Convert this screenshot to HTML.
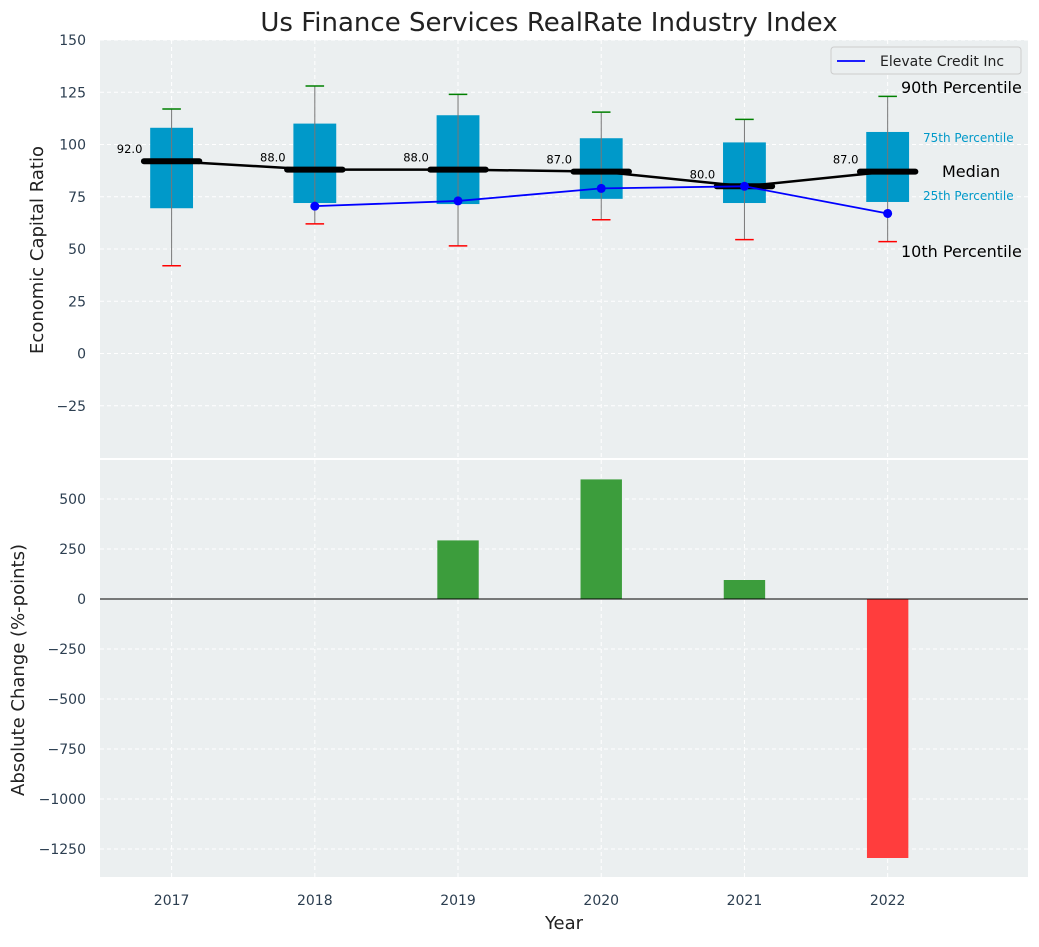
<!DOCTYPE html>
<html><head><meta charset="utf-8"><style>
body{margin:0;background:#fff;font-family:"Liberation Sans","DejaVu Sans",sans-serif}
svg text{font-family:"DejaVu Sans","Liberation Sans",sans-serif}
</style></head><body>
<svg id="c" width="1039" height="942" xmlns="http://www.w3.org/2000/svg"></svg>
<script>
const years=[2017,2018,2019,2020,2021,2022];
const q1=[69.5,72,71.5,74,72,72.5];
const q3=[108,110,114,103,101,106];
const med=[92,88,88,87,80,87];
const p10=[42,62,51.5,64,54.5,53.5];
const p90=[117,128,124,115.5,112,123];
const compYears=[2018,2019,2020,2021,2022];
const comp=[70.5,73,79,80,67];
const changes=[0,0,293,598,95,-1295];
const topTicks=[-25,0,25,50,75,100,125,150];
const botTicks=[-1250,-1000,-750,-500,-250,0,250,500];
const NS='http://www.w3.org/2000/svg';
const svg=document.getElementById('c');
function el(t,a,p){const e=document.createElementNS(NS,t);for(const k in a)e.setAttribute(k,a[k]);(p||svg).appendChild(e);return e;}
const fmt=v=>String(v).replace('-','\u2212');
const L=100,R=1028;
const x=v=>L+(v-2016.5)/(6.48)*(R-L);
const T0=40,T1=458,B0=460,B1=877;
const yt=v=>T0+(150-v)/200*(T1-T0);
const yb=v=>B0+(695-v)/(695+1390)*(B1-B0);
let e=el('rect',{x:L,y:T0,width:R-L,height:T1-T0,fill:'#ebeff0'});
e=el('rect',{x:L,y:B0,width:R-L,height:B1-B0,fill:'#ebeff0'});
years.forEach(yr=>{el('line',{x1:x(yr),x2:x(yr),y1:T0,y2:T1,stroke:'#fff','stroke-dasharray':'4,3'});el('line',{x1:x(yr),x2:x(yr),y1:B0,y2:B1,stroke:'#fff','stroke-dasharray':'4,3'});});
topTicks.forEach(v=>{el('line',{x1:L,x2:R,y1:yt(v),y2:yt(v),stroke:'#fff','stroke-dasharray':'4,3'});
 const t=el('text',{x:L-14,y:yt(v)+5,'text-anchor':'end','font-size':14,fill:'#2c3e50'});t.textContent=fmt(v);});
botTicks.forEach(v=>{el('line',{x1:L,x2:R,y1:yb(v),y2:yb(v),stroke:'#fff','stroke-dasharray':'4,3'});
 const t=el('text',{x:L-14,y:yb(v)+5,'text-anchor':'end','font-size':14,fill:'#2c3e50'});t.textContent=fmt(v);});
const bw=(0.3/6.5)*(R-L), mw=(0.43/6.5)*(R-L), cw=(0.13/6.5)*(R-L);
years.forEach((yr,i)=>{
 const cx=x(yr);
 e=el('rect',{x:cx-bw/2,y:yt(q3[i]),width:bw,height:yt(q1[i])-yt(q3[i]),fill:'#0099c9'});
 el('line',{x1:cx,x2:cx,y1:yt(p90[i]),y2:yt(p10[i]),stroke:'#777','stroke-width':1});
 e=el('line',{x1:cx-cw/2,x2:cx+cw/2,y1:yt(p90[i]),y2:yt(p90[i]),stroke:'green','stroke-width':1.5});
 e=el('line',{x1:cx-cw/2,x2:cx+cw/2,y1:yt(p10[i]),y2:yt(p10[i]),stroke:'red','stroke-width':1.5});
});
e=el('polyline',{points:years.map((yr,i)=>x(yr)+','+yt(med[i])).join(' '),fill:'none',stroke:'#000','stroke-width':2.5});
years.forEach((yr,i)=>{const cx=x(yr);
 e=el('line',{x1:cx-mw/2+3,x2:cx+mw/2-3,y1:yt(med[i]),y2:yt(med[i]),stroke:'#000','stroke-width':6,'stroke-linecap':'round'});
 const t=el('text',{x:cx-42,y:yt(med[i])-8,'text-anchor':'middle','font-size':11.5,fill:'#000'});t.textContent=med[i].toFixed(1);
});
e=el('polyline',{points:compYears.map((yr,i)=>x(yr)+','+yt(comp[i])).join(' '),fill:'none',stroke:'blue','stroke-width':1.8});
compYears.forEach((yr,i)=>{e=el('circle',{cx:x(yr),cy:yt(comp[i]),r:4.5,fill:'blue'});});
[['90th Percentile',901,93,16,'#000'],['75th Percentile',923,142,12,'#0099c9'],['Median',942,177,16,'#000'],['25th Percentile',923,200,12,'#0099c9'],['10th Percentile',901,257,16,'#000']].forEach(a=>{
 const t=el('text',{x:a[1],y:a[2],'font-size':a[3],fill:a[4]});t.textContent=a[0];});
const lg=el('g',{});
el('rect',{x:831,y:47,width:190,height:27,rx:3,fill:'#ebeff0',stroke:'#ccc'},lg);
el('line',{x1:837,x2:865,y1:61,y2:61,stroke:'blue','stroke-width':1.8},lg);
let t=el('text',{x:880,y:66,'font-size':14,fill:'#222'},lg);t.textContent='Elevate Credit Inc';
const barw=(0.29/6.5)*(R-L);
years.forEach((yr,i)=>{const v=changes[i];if(!v)return;
 e=el('rect',{x:x(yr)-barw/2,y:Math.min(yb(v),yb(0)),width:barw,height:Math.abs(yb(v)-yb(0)),fill:v>=0?'#3c9d3c':'#ff3d3d'});});
el('line',{x1:L,x2:R,y1:yb(0),y2:yb(0),stroke:'#000','stroke-width':1});
years.forEach(yr=>{const t=el('text',{x:x(yr),y:905,'text-anchor':'middle','font-size':14,fill:'#2c3e50'});t.textContent=yr;});
t=el('text',{x:564,y:929,'text-anchor':'middle','font-size':18,fill:'#222'});t.textContent='Year';
t=el('text',{x:43,y:250,'text-anchor':'middle','font-size':18,fill:'#222',transform:'rotate(-90 43 250)'});t.textContent='Economic Capital Ratio';
t=el('text',{x:24,y:670,'text-anchor':'middle','font-size':18,fill:'#222',transform:'rotate(-90 24 670)'});t.textContent='Absolute Change (%-points)';
t=el('text',{x:549,y:31,'text-anchor':'middle','font-size':26,fill:'#222'});t.textContent='Us Finance Services RealRate Industry Index';
</script>
</body></html>
